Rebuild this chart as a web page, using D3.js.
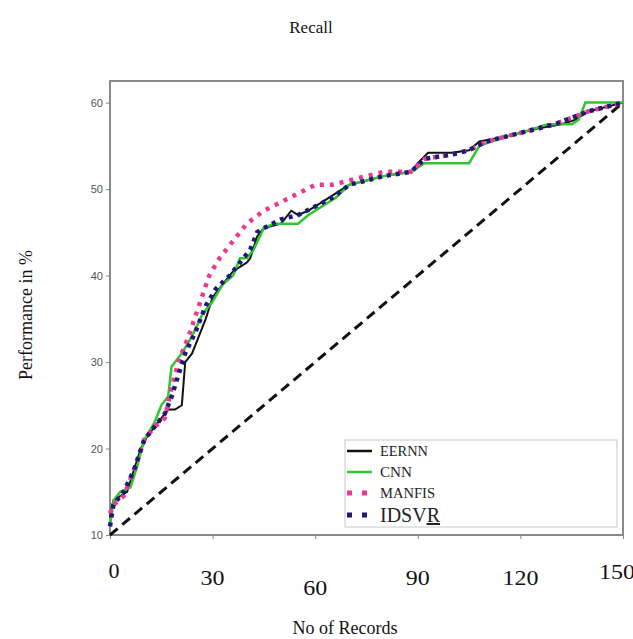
<!DOCTYPE html>
<html lang="en">
<head>
<meta charset="UTF-8">
<script src="https://d3js.org/d3.v7.min.js"></script>
<title>Recall</title>
<style>
  body { margin: 0; background: #fff; }
</style>
</head>
<body>
<div id="chart"></div>
<script>
// values (x = no of records, y = performance %)
const eernnX = [0, 1, 5, 7, 9, 11, 14, 17, 19, 21, 22, 24, 26, 28, 30, 33, 36, 38, 40, 41, 43, 45, 50, 53, 55, 58, 62, 66, 70, 75, 80, 88, 90, 93, 100, 105, 108, 115, 120, 125, 132, 136, 140, 145, 150];
const eernnY = [12, 14, 15, 17.5, 20, 21.5, 23, 24.5, 24.5, 25, 30, 31, 33, 35, 37.5, 39, 40.5, 41, 41.5, 42, 44.5, 45.5, 46, 47.5, 47, 47.5, 48.5, 49.5, 50.5, 51, 51.5, 52, 53, 54.2, 54.2, 54.5, 55.5, 56, 56.5, 57, 57.5, 58, 59, 59.5, 60];

const cnnX = [0, 1, 3, 6, 8, 10, 13, 15, 17, 18, 21, 24, 27, 30, 33, 36, 38, 40, 42, 45, 48, 55, 58, 62, 66, 70, 75, 80, 88, 92, 105, 108, 115, 120, 128, 135, 137, 139, 150];
const cnnY = [11, 14, 15, 15.5, 18, 21, 23, 25, 26, 29.5, 31, 33, 35.5, 37, 39, 40, 42, 42, 43, 45.5, 46, 46, 47, 48, 49, 50.5, 51, 51.5, 52, 53, 53, 55, 56, 56.5, 57.5, 57.5, 58, 60, 60];

const manfisX = [0, 1, 4, 7, 10, 13, 16, 18, 20, 23, 26, 29, 32, 36, 40, 45, 50, 55, 60, 65, 70, 75, 80, 88, 92, 100, 105, 110, 120, 130, 140, 150];
const manfisY = [12.5, 13.5, 14.5, 17.5, 21, 22.5, 23.5, 27, 30, 33, 36.5, 40, 42, 44, 46, 47.5, 48.5, 49.5, 50.5, 50.5, 51, 51.5, 52, 52, 53.5, 54, 54.5, 55.5, 56.5, 57.5, 59, 60];

const idsvrX = [0, 1, 4, 7, 10, 13, 16, 18, 20, 22, 25, 28, 31, 35, 38, 41, 43, 45, 50, 55, 60, 65, 70, 75, 80, 88, 92, 100, 105, 110, 120, 130, 140, 150];
const idsvrY = [11, 13.5, 15, 17.5, 21, 22.5, 24, 26, 28.5, 31, 33.5, 36.5, 38.5, 40, 41.5, 43, 45, 45.5, 46.5, 47, 48, 49, 50.5, 51, 51.5, 52, 53.5, 54, 54.5, 55.5, 56.5, 57.5, 59, 60];

const diagX = [0, 150];
const diagY = [10, 60];

const xTicks = [0, 30, 60, 90, 120, 150];
const yTicks = [10, 20, 30, 40, 50, 60];
const seriesNames = ["EERNN", "CNN", "MANFIS", "IDSVR"];

const width = 633, height = 639;
const svg = d3.select("#chart").append("svg")
    .attr("width", width)
    .attr("height", height)
    .style("font-family", "'Liberation Serif', 'Times New Roman', serif");

const x = d3.scaleLinear().domain([0, 150]).range([110, 623]);
const y = d3.scaleLinear().domain([10, 62.5]).range([535, 81]);

// frame
svg.append("rect")
    .attr("x", x(0)).attr("y", y(62.5))
    .attr("width", x(150) - x(0)).attr("height", y(10) - y(62.5))
    .attr("fill", "none").attr("stroke", "#8a8a8a").attr("stroke-width", 2);

// y axis
const yAxis = svg.append("g")
    .attr("transform", `translate(${x(0)},0)`)
    .call(d3.axisLeft(y).tickValues(yTicks).tickSize(4).tickFormat(d3.format("d")));
yAxis.select(".domain").remove();
yAxis.selectAll("line").attr("stroke", "#888");
yAxis.selectAll("text")
    .attr("fill", "#555")
    .style("font-family", "'Liberation Sans', Arial, sans-serif")
    .style("font-size", "11px")
    .attr("x", -7);

// x axis: ticks only, labels staggered like the picture
const xAxis = svg.append("g")
    .attr("transform", `translate(0,${y(10)})`)
    .call(d3.axisBottom(x).tickValues(xTicks).tickSize(4).tickFormat(""));
xAxis.select(".domain").remove();
xAxis.selectAll("line").attr("stroke", "#888");

const xLabelDy = [43, 50, 60, 50, 50, 44];
const xLabelW = [11, 24, 24, 24, 36, 36];
svg.selectAll(".xlab")
    .data(xTicks)
    .enter().append("text")
    .attr("class", "xlab")
    .attr("x", d => x(d) + (d === 150 ? -6 : d === 0 ? 4 : 0))
    .attr("y", (d, i) => y(10) + xLabelDy[i])
    .attr("text-anchor", "middle")
    .attr("font-size", "22px")
    .attr("fill", "#111")
    .attr("textLength", (d, i) => xLabelW[i])
    .attr("lengthAdjust", "spacingAndGlyphs")
    .text(d => d);

// diagonal
const line = d3.line().x(d => x(d[0])).y(d => y(d[1]));
svg.append("path")
    .datum(d3.zip(diagX, diagY))
    .attr("d", line)
    .attr("fill", "none")
    .attr("stroke", "#111")
    .attr("stroke-width", 3)
    .attr("stroke-dasharray", "10,6");

const series = [
    { name: "EERNN", xs: eernnX, ys: eernnY, color: "#111111", w: 2, dash: null },
    { name: "CNN", xs: cnnX, ys: cnnY, color: "#2ec82e", w: 2.5, dash: null },
    { name: "MANFIS", xs: manfisX, ys: manfisY, color: "#f0378f", w: 4.5, dash: "4,6" },
    { name: "IDSVR", xs: idsvrX, ys: idsvrY, color: "#1b1b7a", w: 4.5, dash: "4,5" }
];

series.forEach(s => {
    svg.append("path")
        .datum(d3.zip(s.xs, s.ys))
        .attr("d", line)
        .attr("fill", "none")
        .attr("stroke", s.color)
        .attr("stroke-width", s.w)
        .attr("stroke-dasharray", s.dash);
});

// legend
const lg = svg.append("g");
lg.append("rect")
    .attr("x", 345).attr("y", 440).attr("width", 272).attr("height", 87)
    .attr("fill", "#fff").attr("stroke", "#c8c8c8").attr("stroke-width", 1);

const legendY = [451, 472, 493, 515];
const legendW = [48, 32, 55, 60];
series.forEach((s, i) => {
    lg.append("line")
        .attr("x1", 347).attr("x2", 372)
        .attr("y1", legendY[i]).attr("y2", legendY[i])
        .attr("stroke", s.color)
        .attr("stroke-width", s.dash ? 5 : 2.5)
        .attr("stroke-dasharray", s.dash ? "5,10" : null);
    const t = lg.append("text")
        .attr("x", 380)
        .attr("y", legendY[i] + (i === 3 ? 7 : 5))
        .attr("font-size", i === 3 ? "20px" : "14px")
        .attr("fill", "#222")
        .attr("textLength", legendW[i])
        .attr("lengthAdjust", "spacingAndGlyphs");
    if (i === 3) {
        t.append("tspan").text(seriesNames[i].slice(0, 4));
        t.append("tspan").attr("text-decoration", "underline").text(seriesNames[i].slice(4));
    } else {
        t.text(seriesNames[i]);
    }
});

// titles
svg.append("text")
    .attr("x", 311).attr("y", 33)
    .attr("text-anchor", "middle")
    .attr("font-size", "17px")
    .attr("fill", "#111")
    .text("Recall");

svg.append("text")
    .attr("transform", "translate(32,315) rotate(-90)")
    .attr("text-anchor", "middle")
    .attr("font-size", "18px")
    .attr("fill", "#111")
    .text("Performance in %");

svg.append("text")
    .attr("x", 345).attr("y", 634)
    .attr("text-anchor", "middle")
    .attr("font-size", "18px")
    .attr("fill", "#111")
    .text("No of Records");
</script>
</body>
</html>
